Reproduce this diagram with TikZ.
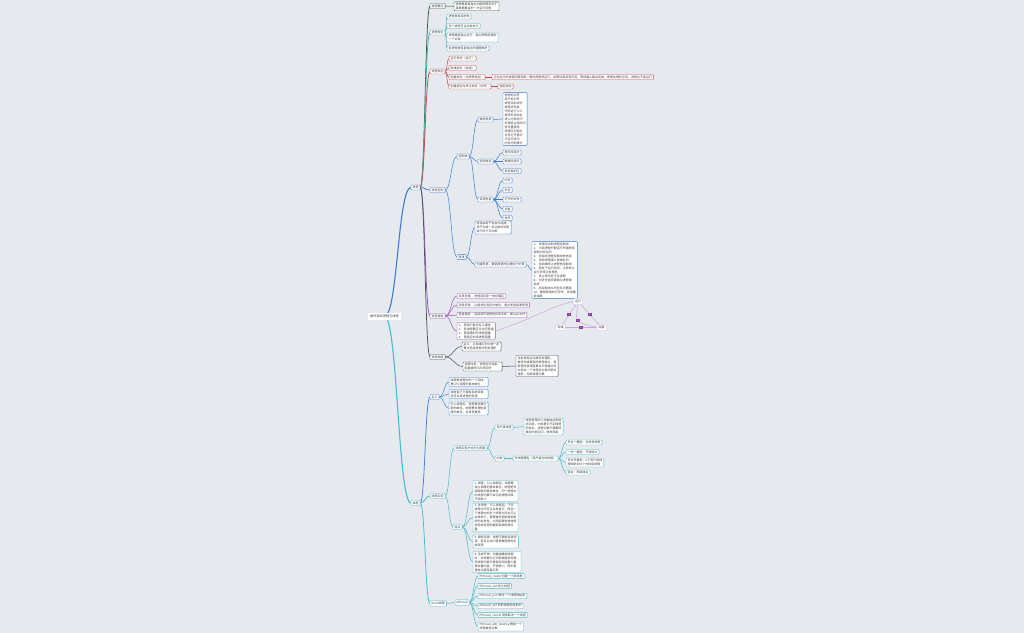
\documentclass[tikz,border=0pt]{standalone}
\usepackage{fontspec}
\setmainfont{Noto Sans CJK SC}
\usetikzlibrary{calc,arrows.meta}
\pgfdeclarelayer{bg}\pgfdeclarelayer{ln}\pgfsetlayers{bg,ln,main}
\definecolor{bgc}{HTML}{E6E9ED}
\definecolor{txt}{HTML}{3A3A3A}
\definecolor{cB}{HTML}{3C7DD0}
\definecolor{cC}{HTML}{3FC0D3}
\definecolor{cDG}{HTML}{2F5D45}
\definecolor{cT}{HTML}{4AAFC0}
\definecolor{cR}{HTML}{C8474E}
\definecolor{cP}{HTML}{9C56B8}
\definecolor{cG}{HTML}{4A5561}
\definecolor{cBt}{HTML}{3C86D8}
\definecolor{cTt}{HTML}{4ABACB}
\definecolor{cPL}{HTML}{CBA6DB}
\definecolor{cPD}{HTML}{8A3CA6}
\newcommand\fs{\fontsize{3}{4}\selectfont}
\newcommand\lkx[3]{\draw[#3] (#1) .. controls ($(#1)!0.5!(#2|-#1)$) and ($(#2)!0.5!(#1|-#2)$) .. (#2);}
\newcommand\lk[3]{\lkx{#1.east}{#2.west}{#3}}
\tikzset{
  bx/.style={draw=#1, fill=white, rounded corners=0.8bp, line width=0.4bp, inner xsep=1.6bp, inner ysep=1.1bp, outer sep=0pt, anchor=west, align=left, font=\fs, text=txt},
  gn/.style={draw=cPL, fill=white, rounded corners=1bp, line width=0.3bp, inner xsep=1.8bp, inner ysep=1.8bp, outer sep=0pt, font=\fs, text=txt},
  lab/.style={fill=cPD, inner sep=0pt, minimum size=3.6bp, text=white, font=\fontsize{2.2}{2.4}\selectfont},
  rel/.style={draw=cPL, line width=0.5bp, -{Stealth[length=2bp,width=1.6bp]}},
  la/.style={draw=#1, line width=1.1bp},
  lb/.style={draw=#1, line width=0.75bp},
  lc/.style={draw=#1, line width=0.5bp},
}
\begin{document}
\begin{tikzpicture}[x=1bp,y=-1bp]
\useasboundingbox (0,0) rectangle (1024,633);
\begin{pgfonlayer}{bg}
\fill[bgc] (0,0) rectangle (1024,633);
\end{pgfonlayer}
% root
\node[fill=white, inner xsep=2.5bp, inner ysep=1.6bp, outer sep=0pt, font=\fontsize{3.2}{4}\selectfont, text=txt] (root) at (384.5,316.5) {操作系统进程与线程};
% level 1
\node[bx=cB] (p) at (411,187.5) {进程};
\node[bx=cC] (t) at (411,503) {线程};
% level 2 (process)
\node[bx=cDG] (p1) at (430,6) {进程概念};
\node[bx=cT] (p2) at (430,32.5) {进程特征};
\node[bx=cR] (p3) at (430,71.5) {进程状态};
\node[bx=cB] (p4) at (430,190) {进程控制};
\node[bx=cP] (p5) at (430,316) {进程通信};
\node[bx=cG] (p6) at (430,357) {进程调度};
% concept
\node[bx=cDG] (p1a) at (454,6.3) {进程是具有独立功能的程序关于\\某数据集合的一次运行过程};
% features
\node[bx=cT] (p2a) at (447,16.5) {进程具有动态性};
\node[bx=cT] (p2b) at (447,26) {多个进程可以并发执行};
\node[bx=cT] (p2c) at (447,37.5) {进程是能独立运行、独立获得资源的\\一个实体};
\node[bx=cT] (p2d) at (447,48.5) {各进程按各自独立的速度推进};
% states
\node[bx=cR] (p3a) at (449,58.5) {运行状态（运行）};
\node[bx=cR] (p3b) at (449,68) {就绪状态（就绪）};
\node[bx=cR] (p3c) at (449,77) {阻塞状态（也称等待态）};
\node[bx=cR] (p3d) at (449,86.5) {创建状态与终止状态（补充）};
\node[bx=cR] (p3c1) at (492,77) {正在运行的进程因等待某一事件而暂停运行，如等待某资源可用、等待输入输出完成，即使处理机空闲，进程也不能运行};
\node[bx=cR] (p3d1) at (498,86.5) {挂起状态};
% control
\node[bx=cB] (p4a) at (457,156.5) {控制块};
\node[bx=cB] (p4b) at (457,257) {原语};
\node[bx=cB] (p4a1) at (478,119.5) {描述信息};
\node[bx=cB] (p4a2) at (478,161.5) {控制信息};
\node[bx=cB] (p4a3) at (478,199.5) {资源信息};
\node[bx=cB] (p4a1x) at (503,119) {进程标识符\\用户标识符\\进程当前状态\\进程优先级\\代码运行入口\\程序外存地址\\进入内存时间\\处理机占用时间\\信号量使用\\进程队列指针\\文件打开情况\\已运行时间\\内存分配情况};
\node[bx=cB] (p4a2x) at (503,152.5) {程序段指针};
\node[bx=cB] (p4a2y) at (503,161.5) {数据段指针};
\node[bx=cB] (p4a2z) at (503,171) {现场保护区};
\node[bx=cB] (p4a3a) at (503,180.5) {内存};
\node[bx=cB] (p4a3b) at (503,190) {外存};
\node[bx=cB] (p4a3c) at (503,199.5) {打开的文件};
\node[bx=cB] (p4a3d) at (503,209) {设备};
\node[bx=cB] (p4a3e) at (503,218) {信号};
\node[bx=cB] (p4b1) at (475,227.5) {原语由若干条指令组成，\\用于完成一定功能的过程\\执行时不可中断};
\node[bx=cB] (p4b2) at (475,264.5) {创建原语、撤销原语的主要执行步骤};
\node[bx=cB] (p4b2x) at (532,270) {1、 申请空白的进程控制块\\2、 为新进程分配运行所需的资\\源和内存空间\\3、 初始化进程控制块的信息\\4、 将新进程插入就绪队列\\5、 找到被终止进程的控制块\\6、 若处于运行状态，立即终止\\运行并转让处理机\\7、 终止其所有子孙进程\\8、 归还全部资源给父进程或\\系统\\9、 将控制块从所在队列删除\\10、撤销原语执行完毕，系统重\\新调度};
% communication
\node[bx=cP] (p5a) at (457,296) {共享存储\ \ -\ \ 进程间共享一块存储区};
\node[bx=cP] (p5b) at (457,305) {消息传递\ \ -\ \ 以格式化消息为单位，通过发送接收原语};
\node[bx=cP] (p5c) at (457,315) {管道通信\ \ -\ \ 连接读写进程的共享文件，即pipe文件};
\node[bx=cP] (p5d) at (457,331) {1、 管道只能半双工通信\\2、 各进程要互斥访问管道\\3、 管道满时写进程阻塞\\4、 管道空时读进程阻塞};
% graph
\node[gn] (g1) at (578,301.5) {运行};
\node[gn] (g2) at (560.5,327.5) {就绪};
\node[gn] (g3) at (601.5,327.5) {阻塞};
% scheduling
\node[bx=cG] (p6a) at (462,346.5) {定义：从就绪队列中按一定\\算法选择进程分配处理机};
\node[bx=cG] (p6b) at (463,366.5) {调度时机：进程运行结束、\\阻塞或时间片用完时};
\node[bx=cG] (p6b1) at (516,366) {当前进程主动放弃处理机，\\被优先级更高的进程抢占，调\\度程序按调度算法从就绪队列\\中选出一个进程并为其分配处\\理机，完成进程切换};
% threads
\node[bx=cBt] (t1) at (430,397) {定义};
\node[bx=cBt] (t1a) at (449,382) {线程是进程中的一个实体，\\是CPU调度的基本单位};
\node[bx=cBt] (t1b) at (449,394) {线程自己不拥有系统资源，\\但可共享进程的资源};
\node[bx=cBt] (t1c) at (449,408.5) {引入线程后，进程是资源分\\配的单位，线程是处理机调\\度的单位，并发性更高};
\node[bx=cTt] (t2) at (430,496) {线程实现};
\node[bx=cTt] (t2a) at (454,448) {线程实现方式分为两类};
\node[bx=cTt] (t2a1) at (495,427.5) {用户级线程};
\node[bx=cTt] (t2a1x) at (524,426.5) {线程管理的工作都由应用程\\序完成，内核意识不到线程\\的存在，线程切换不需要转\\换到内核空间，效率较高};
\node[bx=cTt] (t2a2) at (495,458.5) {内核};
\node[bx=cTt] (t2a2x) at (513,458.5) {多线程模型（用户级与内核级）};
\node[bx=cTt] (t2a2a) at (566,442.5) {多对一模型：并发性较差};
\node[bx=cTt] (t2a2b) at (566,452) {一对一模型：开销较大};
\node[bx=cTt] (t2a2c) at (566,462.5) {多对多模型：n个用户级线\\程映射到m个内核级线程};
\node[bx=cTt] (t2a2d) at (566,472.5) {混合：两级组合};
\node[bx=cTt] (t2b) at (453,527) {特点};
\node[bx=cTt] (t2b1) at (473,491) {1. 调度：引入线程后，线程是\\独立调度的基本单位，进程是资\\源拥有的基本单位。同一进程中\\的线程切换不会引起进程切换，\\开销较小};
\node[bx=cTt] (t2b2) at (473,517.5) {2. 并发性：引入线程后，不仅\\进程之间可以并发执行，而且一\\个进程中的多个线程之间也可以\\并发执行，使得操作系统具有更\\好的并发性，从而能更有效地使\\用系统资源和提高系统的吞吐\\量};
\node[bx=cTt] (t2b3) at (473,541.5) {3. 拥有资源：线程不拥有系统资\\源，但可以访问其隶属进程的系\\统资源};
\node[bx=cTt] (t2b4) at (473,562) {4. 系统开销：创建或撤销进程\\时，系统要为之分配或回收资源，\\而线程切换只需保存和设置少量\\寄存器内容，开销很小，同步和\\通信也更容易实现};
\node[bx=cTt] (t3) at (430,603.5) {posix线程};
\node[bx=cTt] (t3a) at (455,602.5) {pthread};
\node[bx=cTt] (t3a1) at (478,576) {Pthread\_create 创建一个新线程};
\node[bx=cTt] (t3a2) at (478,586) {Pthread\_exit 终止线程};
\node[bx=cTt] (t3a3) at (478,596) {Pthread\_join 等待一个线程的结束};
\node[bx=cTt] (t3a4) at (478,606) {pthread\_self 获取线程自身的ID};
\node[bx=cTt] (t3a5) at (478,615) {Pthread\_cancel 请求取消一个线程};
\node[bx=cTt] (t3a6) at (478,626.5) {Pthread\_attr\_destroy 删除一个\\线程属性对象};
% connectors
\begin{pgfonlayer}{ln}
\lkx{root.center}{p.west}{la=cB}
\lkx{root.center}{t.west}{la=cC}
\lk{p}{p1}{lb=cDG}\lk{p}{p2}{lb=cT}\lk{p}{p3}{lb=cR}
\lk{p}{p4}{lb=cB}\lk{p}{p5}{lb=cP}\lk{p}{p6}{lb=cG}
\lk{p1}{p1a}{lc=cDG}
\lk{p2}{p2a}{lc=cT}\lk{p2}{p2b}{lc=cT}\lk{p2}{p2c}{lc=cT}\lk{p2}{p2d}{lc=cT}
\lk{p3}{p3a}{lc=cR}\lk{p3}{p3b}{lc=cR}\lk{p3}{p3c}{lc=cR}\lk{p3}{p3d}{lc=cR}
\lk{p3c}{p3c1}{lc=cR}\lk{p3d}{p3d1}{lc=cR}
\lk{p4}{p4a}{lc=cB}\lk{p4}{p4b}{lc=cB}
\lk{p4a}{p4a1}{lc=cB}\lk{p4a}{p4a2}{lc=cB}\lk{p4a}{p4a3}{lc=cB}
\lk{p4a1}{p4a1x}{lc=cB}
\lk{p4a2}{p4a2x}{lc=cB}\lk{p4a2}{p4a2y}{lc=cB}\lk{p4a2}{p4a2z}{lc=cB}
\lk{p4a3}{p4a3a}{lc=cB}\lk{p4a3}{p4a3b}{lc=cB}\lk{p4a3}{p4a3c}{lc=cB}\lk{p4a3}{p4a3d}{lc=cB}\lk{p4a3}{p4a3e}{lc=cB}
\lk{p4b}{p4b1}{lc=cB}\lk{p4b}{p4b2}{lc=cB}\lk{p4b2}{p4b2x}{lc=cB}
\lk{p5}{p5a}{lc=cP}\lk{p5}{p5b}{lc=cP}\lk{p5}{p5c}{lc=cP}\lk{p5}{p5d}{lc=cP}
\lk{p6}{p6a}{lc=cG}\lk{p6}{p6b}{lc=cG}\lk{p6b}{p6b1}{lc=cG}
\lk{t}{t1}{lb=cBt}\lk{t}{t2}{lb=cTt}\lk{t}{t3}{lb=cTt}
\lk{t1}{t1a}{lc=cBt}\lk{t1}{t1b}{lc=cBt}\lk{t1}{t1c}{lc=cBt}
\lk{t2}{t2a}{lc=cTt}\lk{t2}{t2b}{lc=cTt}
\lk{t2a}{t2a1}{lc=cTt}\lk{t2a}{t2a2}{lc=cTt}
\lk{t2a1}{t2a1x}{lc=cTt}\lk{t2a2}{t2a2x}{lc=cTt}
\lk{t2a2x}{t2a2a}{lc=cTt}\lk{t2a2x}{t2a2b}{lc=cTt}\lk{t2a2x}{t2a2c}{lc=cTt}\lk{t2a2x}{t2a2d}{lc=cTt}
\lk{t2b}{t2b1}{lc=cTt}\lk{t2b}{t2b2}{lc=cTt}\lk{t2b}{t2b3}{lc=cTt}\lk{t2b}{t2b4}{lc=cTt}
\lk{t3}{t3a}{lc=cTt}
\lk{t3a}{t3a1}{lc=cTt}\lk{t3a}{t3a2}{lc=cTt}\lk{t3a}{t3a3}{lc=cTt}\lk{t3a}{t3a4}{lc=cTt}\lk{t3a}{t3a5}{lc=cTt}\lk{t3a}{t3a6}{lc=cTt}
% relationship and state graph
\draw[rel] (p5d.east) .. controls (530,320) and (552,306) .. (g1.west);
\draw[rel] (g2) -- node[lab]{1} (g1);
\draw[rel] (g1) -- node[lab]{3} (g3);
\draw[rel] (g3) -- node[lab]{4} (g2);
\draw[rel] (g1.south) .. controls (575,322) .. node[lab, pos=0.5]{2} (g3.west);
\end{pgfonlayer}
\end{tikzpicture}
\end{document}
